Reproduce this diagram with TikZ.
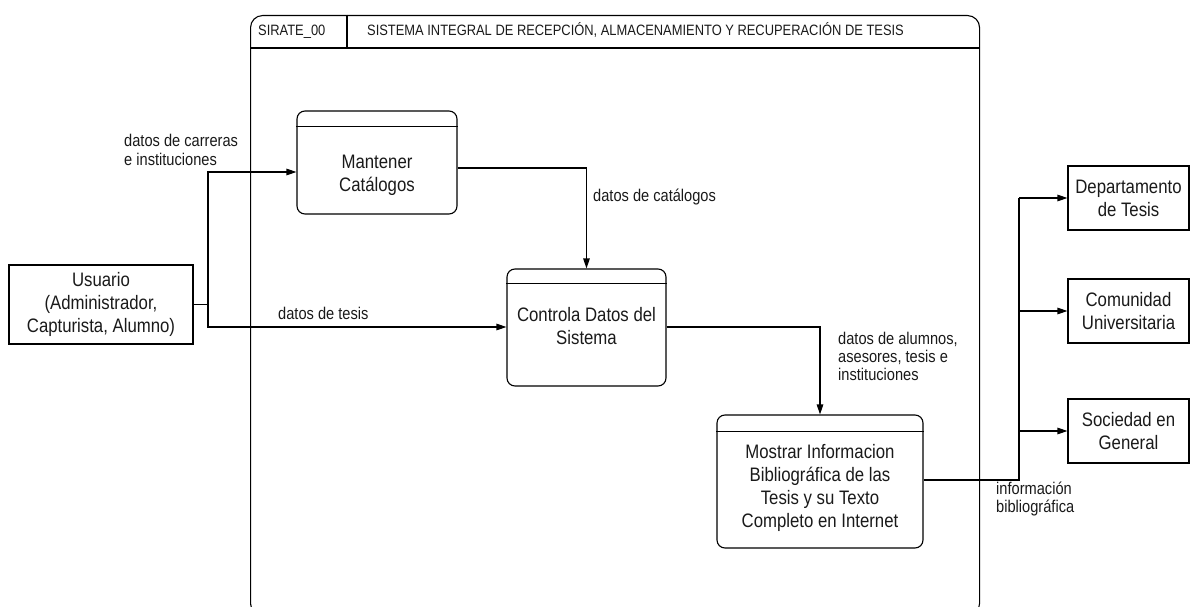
\documentclass[tikz,border=0pt]{standalone}
\usepackage{fontspec}
\setmainfont{Liberation Sans}[FakeStretch=0.86]
\usetikzlibrary{arrows.meta,calc}
\definecolor{ink}{HTML}{1A1A1A}
\tikzset{
  ln/.style={line width=1.1pt, draw=black},
  arr/.style={ln, -{Triangle[length=10pt,width=6.5pt]}},
  ext/.style={draw=black, line width=1.1pt, inner sep=0pt, align=center, text=ink,
    font=\fontsize{19.5}{23}\selectfont},
  proc/.style={draw=black, line width=1.1pt, rounded corners=8pt, inner sep=0pt},
  ntxt/.style={font=\fontsize{19.5}{23}\selectfont, align=center, text=ink, inner sep=0pt},
  lbl/.style={font=\fontsize{17}{18}\selectfont, align=left, text=ink, inner sep=0pt, anchor=base west},
  hdr/.style={font=\fontsize{15}{16}\selectfont, text=ink, inner sep=0pt, anchor=base west},
}
\begin{document}
\begin{tikzpicture}[x=1pt,y=-1pt]
\useasboundingbox (0,0) rectangle (1197,607);
\fill[white] (0,0) rectangle (1197,607);
\clip (0,0) rectangle (1197,607);

% frame
\node[draw=black, line width=1.1pt, rounded corners=12pt, minimum width=729pt, minimum height=600pt,
      anchor=north west, inner sep=0pt] (frame) at (250,15) {};
\draw[ln] ($(frame.north west)+(0,33)$) coordinate (hl) -- (hl -| frame.east);
\draw[ln] (347,15) coordinate (dv1) -- (dv1 |- hl);
\node[hdr] (sid) at (258,35.5) {SIRATE\_00};
\node[hdr] (stitle) at (367,35.5) {SISTEMA INTEGRAL DE RECEPCIÓN, ALMACENAMIENTO Y RECUPERACIÓN DE TESIS};

% external entities
\node[ext, minimum width=184pt, minimum height=79pt] (usr) at (101,304.5)
  {Usuario\\(Administrador,\\Capturista, Alumno)};
\node[ext, minimum width=121pt, minimum height=64pt] (dep) at (1128.5,198) {Departamento\\de Tesis};
\node[ext, minimum width=121pt, minimum height=64pt] (com) at (1128.5,311) {Comunidad\\Universitaria};
\node[ext, minimum width=121pt, minimum height=64pt] (soc) at (1128.5,431) {Sociedad en\\General};

% processes
\node[proc, minimum width=160pt, minimum height=103pt] (mc) at (377,162.5) {};
\draw[ln] ($(mc.north west)+(0,16)$) -- ($(mc.north east)+(0,16)$);
\node[ntxt] (mct) at (377,175) {Mantener\\Catálogos};

\node[proc, minimum width=159pt, minimum height=117pt] (cd) at (586.5,327.5) {};
\draw[ln] ($(cd.north west)+(0,15)$) -- ($(cd.north east)+(0,15)$);
\node[ntxt] (cdt) at (586.5,326.5) {Controla Datos del\\Sistema};

\node[proc, minimum width=206pt, minimum height=133pt] (mi) at (820,481.5) {};
\draw[ln] ($(mi.north west)+(0,17)$) -- ($(mi.north east)+(0,17)$);
\node[ntxt] (mit) at (820,488) {Mostrar Informacion\\Bibliográfica de las\\Tesis y su Texto\\Completo en Internet};

% connectors
\coordinate (j1) at (208,304.5);
\coordinate (jt) at (208,172);
\coordinate (jb) at (208,327);
\draw[ln] (usr.east) -- (j1);
\draw[arr] (j1) -- (jt) -- (mc.west |- jt);
\draw[arr] (j1) -- (jb) -- (cd.west |- jb);

\coordinate (m1) at (586.5,168);
\draw[arr] (mc.east |- m1) -- (m1) -- (cd.north);

\coordinate (c1) at (820,327);
\draw[arr] (cd.east |- c1) -- (c1) -- (mi.north);

\coordinate (d1) at (1019,480);
\draw[ln] (mi.east |- d1) -- (d1) -- (d1 |- dep.west);
\draw[arr] (d1 |- dep.west) -- (dep.west);
\draw[arr] (d1 |- com.west) -- (com.west);
\draw[arr] (d1 |- soc.west) -- (soc.west);

% labels (base anchor = baseline of last line)
\node[lbl] (l1) at (124,165) {datos de carreras\\e instituciones};
\node[lbl] (l2) at (593,201.5) {datos de catálogos};
\node[lbl] (l3) at (278,319) {datos de tesis};
\node[lbl] (l4) at (838,380) {datos de alumnos,\\asesores, tesis e\\instituciones};
\node[lbl] (l5) at (996,512.5) {información\\bibliográfica};
\end{tikzpicture}
\end{document}
